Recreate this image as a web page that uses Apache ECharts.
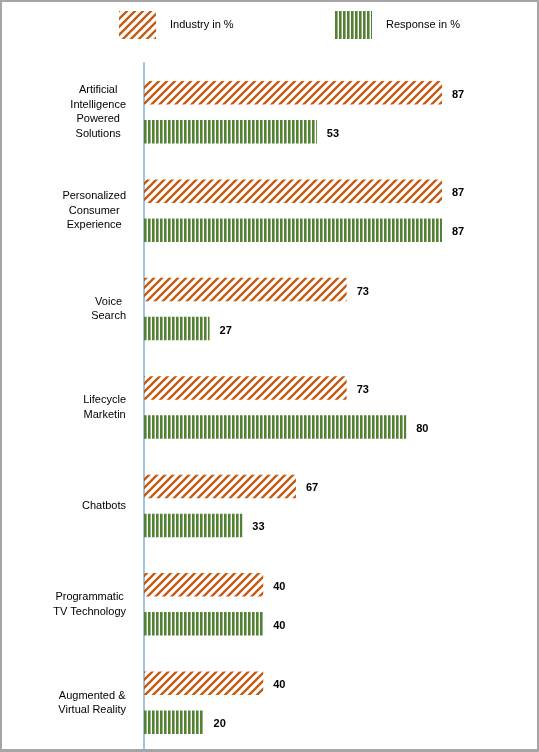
<!DOCTYPE html>
<html>
<head>
<meta charset="utf-8">
<script src="https://cdn.jsdelivr.net/npm/echarts@6/dist/echarts.min.js"></script>
<style>
  html, body { margin: 0; padding: 0; background: #fff; }
  #wrap { position: relative; width: 539px; height: 752px; }
  #chart { position: absolute; left: 0; top: 0; width: 539px; height: 752px; }
  #frame { position: absolute; left: 0; top: 0; width: 539px; height: 752px; box-sizing: border-box;
           border: 2px solid #a6a6a6; border-bottom-width: 3px; pointer-events: none; }
</style>
</head>
<body>
<div id="wrap">
  <div id="chart"></div>
  <div id="frame"></div>
</div>
<script>
// categories, top to bottom
const categories = [
  'Artificial\nIntelligence\nPowered\nSolutions',
  'Personalized\nConsumer\nExperience',
  'Voice\nSearch',
  'Lifecycle\nMarketin',
  'Chatbots',
  'Programmatic\nTV Technology',
  'Augmented &\nVirtual Reality'
];

// bar lengths as drawn in the picture (axis units, 0..100)
const industryBars = [100, 100, 68, 68, 51, 40, 40];
const responseBars = [58, 100, 22, 88, 33, 40, 20];

// data labels printed next to the bars
const industryLabels = [87, 87, 73, 73, 67, 40, 40];
const responseLabels = [53, 87, 27, 80, 33, 40, 20];

const FONT = '"Liberation Sans", Arial, sans-serif';

// wide upward diagonal hatch
function diagPattern(color) {
  const c = document.createElement('canvas');
  c.width = 8; c.height = 8;
  const ctx = c.getContext('2d');
  ctx.strokeStyle = color;
  ctx.lineWidth = 2.3;
  ctx.beginPath();
  ctx.moveTo(-4, 4); ctx.lineTo(4, -4);
  ctx.moveTo(0, 8); ctx.lineTo(8, 0);
  ctx.moveTo(4, 12); ctx.lineTo(12, 4);
  ctx.stroke();
  return { image: c, repeat: 'repeat' };
}

// vertical stripes
function vertPattern(color) {
  const c = document.createElement('canvas');
  c.width = 4; c.height = 4;
  const ctx = c.getContext('2d');
  ctx.fillStyle = color;
  ctx.fillRect(0, 0, 2.6, 4);
  return { image: c, repeat: 'repeat' };
}

const chart = echarts.init(document.getElementById('chart'), null, { renderer: 'canvas' });

const legendBase = {
  top: 11,
  padding: 0,
  itemWidth: 37,
  itemHeight: 28,
  icon: 'rect',
  selectedMode: false,
  textStyle: { fontFamily: FONT, fontSize: 11, color: '#000', padding: [0, 0, 0, 9] }
};

const labelBase = {
  show: true,
  position: 'right',
  distance: 10,
  offset: [0, 2],
  fontFamily: FONT,
  fontSize: 11,
  fontWeight: 'bold',
  color: '#000'
};

const option = {
  animation: false,
  backgroundColor: '#fff',
  legend: [
    Object.assign({ data: ['Industry in %'], left: 119 }, legendBase),
    Object.assign({ data: ['Response in %'], left: 335 }, legendBase)
  ],
  grid: { left: 144, top: 63, width: 298, bottom: 0, containLabel: false },
  xAxis: {
    type: 'value',
    min: 0,
    max: 100,
    show: false
  },
  yAxis: {
    type: 'category',
    inverse: true,
    data: categories,
    axisLine: { show: true, lineStyle: { color: '#9dc3e6', width: 2 } },
    axisTick: { show: false },
    splitLine: { show: false },
    axisLabel: {
      margin: 18,
      align: 'right',
      lineHeight: 14.5,
      fontFamily: FONT,
      fontSize: 11,
      color: '#000',
      formatter: v => v.split('\n').map(s => '{c|' + s + '}').join('\n'),
      rich: {
        c: { align: 'center', fontFamily: FONT, fontSize: 11, color: '#000', lineHeight: 14.5 }
      }
    }
  },
  series: [
    {
      name: 'Industry in %',
      type: 'bar',
      data: industryBars,
      barWidth: 23.5,
      barGap: '66%',
      itemStyle: { color: diagPattern('#c55a11') },
      label: Object.assign({ formatter: p => industryLabels[p.dataIndex] }, labelBase)
    },
    {
      name: 'Response in %',
      type: 'bar',
      data: responseBars,
      barWidth: 23.5,
      itemStyle: { color: vertPattern('#548235') },
      label: Object.assign({ formatter: p => responseLabels[p.dataIndex] }, labelBase)
    }
  ]
};

chart.setOption(option);
</script>
</body>
</html>
